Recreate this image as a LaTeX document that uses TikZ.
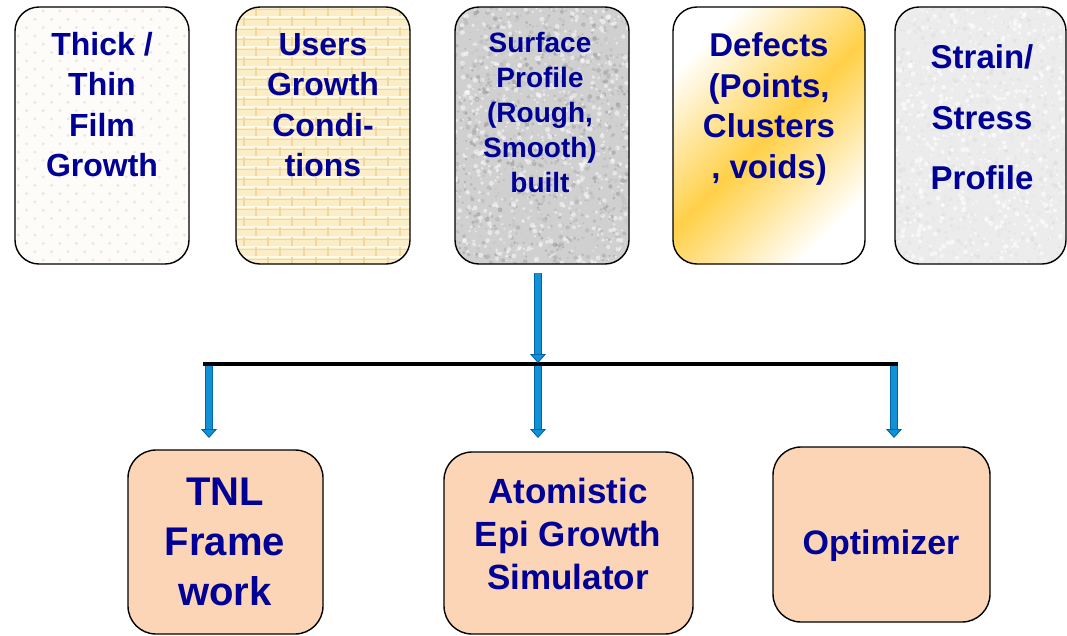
\documentclass[tikz,border=0pt]{standalone}
\usepackage{fontspec}
\setmainfont{Liberation Sans}
\usetikzlibrary{arrows.meta}

\definecolor{navy}{RGB}{0,0,150}
\definecolor{arrowfill}{RGB}{18,146,214}
\definecolor{arrowedge}{RGB}{0,100,168}
\definecolor{peach}{RGB}{251,213,181}
\definecolor{gold}{RGB}{255,208,72}
\definecolor{paper}{RGB}{253,252,249}
\definecolor{paperdot}{RGB}{236,230,224}
\definecolor{brickbase}{RGB}{251,237,198}
\definecolor{brickline}{RGB}{255,250,232}
\definecolor{brickjoint}{RGB}{242,214,160}
\definecolor{granite}{RGB}{208,208,208}
\definecolor{pebble}{RGB}{236,236,236}

\tikzset{
  card/.style={draw=black, line width=1.4pt, rounded corners=24pt,
    inner sep=0pt, minimum width=#1},
  card/.default=174pt,
  tool/.style={draw=black, line width=1.4pt, rounded corners=28pt,
    inner sep=0pt, fill=peach},
  label/.style={text=navy, align=center, inner sep=0pt},
  bus/.style={line width=4.5pt, black},
  flow/.style={draw=arrowedge, line width=0.9pt, double=arrowfill,
    double distance=5.4pt,
    -{Triangle[width=16pt, length=9pt, fill=arrowfill, line width=0.9pt]}},
}

\begin{document}
\begin{tikzpicture}[x=1pt, y=-1pt]
\useasboundingbox (0,0) rectangle (1067,635);

% ---- upper row: input cards with their surface textures ----
% (texture coordinates are given relative to each card's centre)
\node[card, minimum height=257pt, fill=paper,
  path picture={
    \foreach \r in {0,...,31} {
      \pgfmathsetmacro\shift{mod(\r,2)*8.3}
      \foreach \c in {0,...,11}
        \fill[paperdot] ({-92+\shift+16.6*\c},{-124.5+8.3*\r}) circle (1.6pt);
    }
  }] (input1) at (102,135.5) {};

\node[card, minimum height=257pt, fill=brickbase,
  path picture={
    \foreach \r in {0,...,26} {
      \pgfmathsetmacro\yy{-128.5+10*\r}
      \draw[brickline, line width=2.6pt] (-95,\yy) -- (95,\yy);
      \draw[brickjoint, line width=0.6pt] (-95,\yy+2) -- (95,\yy+2);
      \pgfmathsetmacro\shift{mod(\r,2)*12}
      \foreach \c in {0,...,8}
        \draw[brickjoint, line width=1.1pt]
          ({-91+\shift+24*\c},\yy) -- ({-91+\shift+24*\c},\yy+10);
    }
  }] (input2) at (323,135.5) {};

\pgfmathsetseed{4217}
\node[card, minimum height=257pt, fill=granite,
  path picture={
    \foreach \i in {1,...,1100} {
      \pgfmathsetmacro\g{int(18+30*rnd)}
      \fill[black!\g, opacity=0.45] ({174*(rnd-0.5)},{257*(rnd-0.5)}) circle ({0.8+1.6*rnd});
    }
    \foreach \i in {1,...,700}
      \fill[white, opacity=0.5] ({174*(rnd-0.5)},{257*(rnd-0.5)}) circle ({0.8+1.8*rnd});
  }] (input3) at (542,135.5) {};

\node[card=192pt, minimum height=257pt,
  top color=white, bottom color=white, middle color=gold, shading angle=45]
  (input4) at (769,135.5) {};

\node[card=171pt, minimum height=257pt, fill=pebble,
  path picture={
    \foreach \i in {1,...,800} {
      \pgfmathsetmacro\g{int(8+12*rnd)}
      \fill[black!\g, opacity=0.3] ({171*(rnd-0.5)},{257*(rnd-0.5)}) circle ({0.8+1.6*rnd});
    }
    \foreach \i in {1,...,600}
      \fill[white, opacity=0.6] ({171*(rnd-0.5)},{257*(rnd-0.5)}) circle ({0.8+1.8*rnd});
  }] (input5) at (980.5,135.5) {};

\node[label, font=\fontsize{32}{40.5}\selectfont\bfseries] (text1) at (102,104.7)
  {Thick /\\Thin\\Film\\Growth};
\node[label, font=\fontsize{32}{40.5}\selectfont\bfseries] (text2) at (323,105)
  {Users\\Growth\\Condi-\\tions};
\node[label, font=\fontsize{28}{35.2}\selectfont\bfseries] (text3) at (540,112.5)
  {Surface\\Profile\\(Rough,\\Smooth)\\built};
\node[label, font=\fontsize{33}{40.4}\selectfont\bfseries] (text4) at (769,109)
  {Defects\\(Points,\\Clusters\\, voids)};
\node[label, font=\fontsize{33}{60.5}\selectfont\bfseries] (text5) at (982,117.5)
  {Strain/\\Stress\\Profile};

% ---- lower row: tools ----
\node[tool, minimum width=195pt, minimum height=184pt] (tnl) at (225.5,542) {};
\node[tool, minimum width=249pt, minimum height=182pt] (epi) at (568.5,543) {};
\node[tool, minimum width=217pt, minimum height=175pt] (opt) at (881.5,534.5) {};

\node[label, font=\fontsize{40}{50}\selectfont\bfseries] (tnltext) at (225,542)
  {TNL\\Frame\\work};
\node[label, font=\fontsize{35}{43}\selectfont\bfseries] (epitext) at (568,534)
  {Atomistic\\Epi Growth\\Simulator};
\node[label, font=\fontsize{34}{40}\selectfont\bfseries] (opttext) at (881,545.5)
  {Optimizer};

% ---- distribution bus ----
\coordinate (busL) at (203,364);
\coordinate (busR) at (898,364);
\coordinate (feed) at (538,273);
\coordinate (feedEnd) at (538,363);
\coordinate (dropL) at (209,366);
\coordinate (dropC) at (538,366);
\coordinate (dropR) at (894,366);
\coordinate (endL) at (209,438);
\coordinate (endC) at (538,438);
\coordinate (endR) at (894,438);

\draw[bus] (busL) -- (busR);
\draw[flow] (feed) -- (feedEnd);
\draw[flow] (dropL) -- (endL);
\draw[flow] (dropC) -- (endC);
\draw[flow] (dropR) -- (endR);
\end{tikzpicture}
\end{document}
